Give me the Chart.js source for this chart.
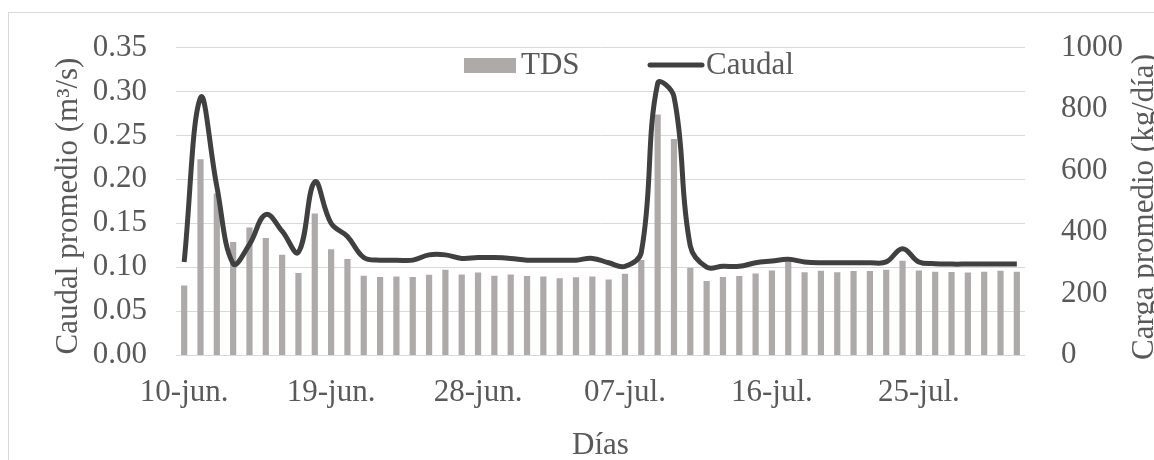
<!DOCTYPE html>
<html>
<head>
<meta charset="utf-8">
<script src="https://cdn.jsdelivr.net/npm/chart.js@4"></script>
<style>
html, body { margin:0; padding:0; background:#fff; overflow:hidden; }
#wrap { position:relative; width:1154px; height:460px; }
#frame { position:absolute; left:8px; top:12px; width:1300px; height:600px; border:1px solid #d9d9d9; }
canvas { position:absolute; left:0; top:0; }
</style>
</head>
<body>
<div id="wrap">
  <div id="frame"></div>
  <canvas id="grafico" width="1154" height="460"></canvas>
</div>
<script>
// dias del 10-jun. al 31-jul.
const dias = [];
for (let d = 10; d <= 30; d++) dias.push(d + '-jun.');
for (let d = 1; d <= 31; d++) dias.push((d < 10 ? '0' + d : '' + d) + '-jul.');

const etiquetas = ['10-jun.', '19-jun.', '28-jun.', '07-jul.', '16-jul.', '25-jul.'];

// carga de TDS (kg/dia), eje derecho
const tds = [226, 637, 525, 368, 415, 381, 326, 267, 460, 344, 312, 258, 254, 255, 254, 261,
             277, 262, 268, 258, 262, 257, 255, 250, 253, 255, 246, 264, 309, 782, 703, 284,
             241, 254, 257, 265, 275, 303, 269, 274, 269, 273, 273, 277, 307, 275, 271, 270,
             268, 271, 274, 271];

// caudal promedio (m3/s), eje izquierdo
const caudal = [0.106, 0.293, 0.192, 0.104, 0.126, 0.160, 0.141, 0.117, 0.197, 0.150, 0.135, 0.111,
                0.108, 0.108, 0.108, 0.114, 0.114, 0.110, 0.111, 0.111, 0.110, 0.108, 0.108, 0.108,
                0.108, 0.110, 0.105, 0.101, 0.117, 0.309, 0.294, 0.124, 0.100, 0.101, 0.101, 0.105,
                0.107, 0.109, 0.106, 0.105, 0.105, 0.105, 0.105, 0.106, 0.121, 0.106, 0.104, 0.1035,
                0.1035, 0.1035, 0.1035, 0.1035];

const gris = '#595959';
const fuente = { family: '"Liberation Serif", "Times New Roman", serif', size: 31 };
const fuenteCss = '31px "Liberation Serif", "Times New Roman", serif';

// leyenda y titulos de los ejes verticales dibujados a mano
const extras = {
  id: 'extras',
  afterDatasetsDraw(chart) {
    const ctx = chart.ctx;
    const lin = chart.data.datasets[0];
    const bar = chart.data.datasets[1];
    ctx.save();
    ctx.fillStyle = bar.backgroundColor;
    ctx.fillRect(464, 58, 52, 15);
    ctx.strokeStyle = lin.borderColor;
    ctx.lineWidth = 5;
    ctx.lineCap = 'round';
    ctx.beginPath();
    ctx.moveTo(650, 65);
    ctx.lineTo(702, 65);
    ctx.stroke();
    ctx.font = fuenteCss;
    ctx.fillStyle = gris;
    ctx.textBaseline = 'middle';
    ctx.textAlign = 'left';
    ctx.fillText(bar.label, 521, 66);
    ctx.fillText(lin.label, 706, 66);

    ctx.textAlign = 'center';
    ctx.textBaseline = 'alphabetic';
    ctx.translate(77, 206);
    ctx.rotate(-Math.PI / 2);
    ctx.fillText('Caudal promedio (m\u00b3/s)', 0, 0);
    ctx.restore();

    ctx.save();
    ctx.font = fuenteCss;
    ctx.fillStyle = gris;
    ctx.textAlign = 'center';
    ctx.textBaseline = 'alphabetic';
    ctx.translate(1153, 207);
    ctx.rotate(-Math.PI / 2);
    ctx.fillText('Carga promedio (kg/d\u00eda)', 0, 0);
    ctx.restore();
  }
};

const ctx = document.getElementById('grafico').getContext('2d');
const grafico = new Chart(ctx, {
  type: 'bar',
  data: {
    labels: dias,
    datasets: [
      {
        type: 'line',
        label: 'Caudal',
        data: caudal,
        yAxisID: 'y',
        borderColor: '#404040',
        borderWidth: 5,
        pointRadius: 0,
        tension: 0.4,
        fill: false,
        order: 0
      },
      {
        type: 'bar',
        label: 'TDS',
        data: tds,
        yAxisID: 'y1',
        backgroundColor: '#aeaaaa',
        barPercentage: 0.38,
        categoryPercentage: 1,
        order: 1
      }
    ]
  },
  options: {
    responsive: false,
    animation: false,
    layout: { padding: { left: 0, right: 0, top: 41, bottom: 0 } },
    plugins: {
      legend: { display: false },
      tooltip: { enabled: false }
    },
    scales: {
      x: {
        grid: { display: false },
        border: { display: false },
        ticks: {
          autoSkip: false,
          maxRotation: 0,
          minRotation: 0,
          padding: 11,
          color: gris,
          font: fuente,
          callback: function (v) {
            const l = this.getLabelForValue(v);
            return etiquetas.includes(l) ? l : '';
          }
        },
        title: { display: true, text: 'Días', color: gris, font: fuente, padding: { top: 0, bottom: -4 } },
        afterFit: s => { s.height = 460 - 355; }
      },
      y: {
        position: 'left',
        min: 0,
        max: 0.35,
        grid: { color: '#d9d9d9', lineWidth: 1, drawTicks: false },
        border: { display: false },
        ticks: {
          stepSize: 0.05,
          padding: 29,
          color: gris,
          font: fuente,
          callback: v => v.toFixed(2)
        },
        afterFit: s => { s.width = 176; }
      },
      y1: {
        position: 'right',
        min: 0,
        max: 1000,
        grid: { display: false },
        border: { display: false },
        ticks: { stepSize: 200, padding: 28, color: gris, font: fuente, callback: v => String(v) },
        afterFit: s => { s.width = 1154 - 1025; }
      }
    }
  },
  plugins: [extras]
});
</script>
</body>
</html>
